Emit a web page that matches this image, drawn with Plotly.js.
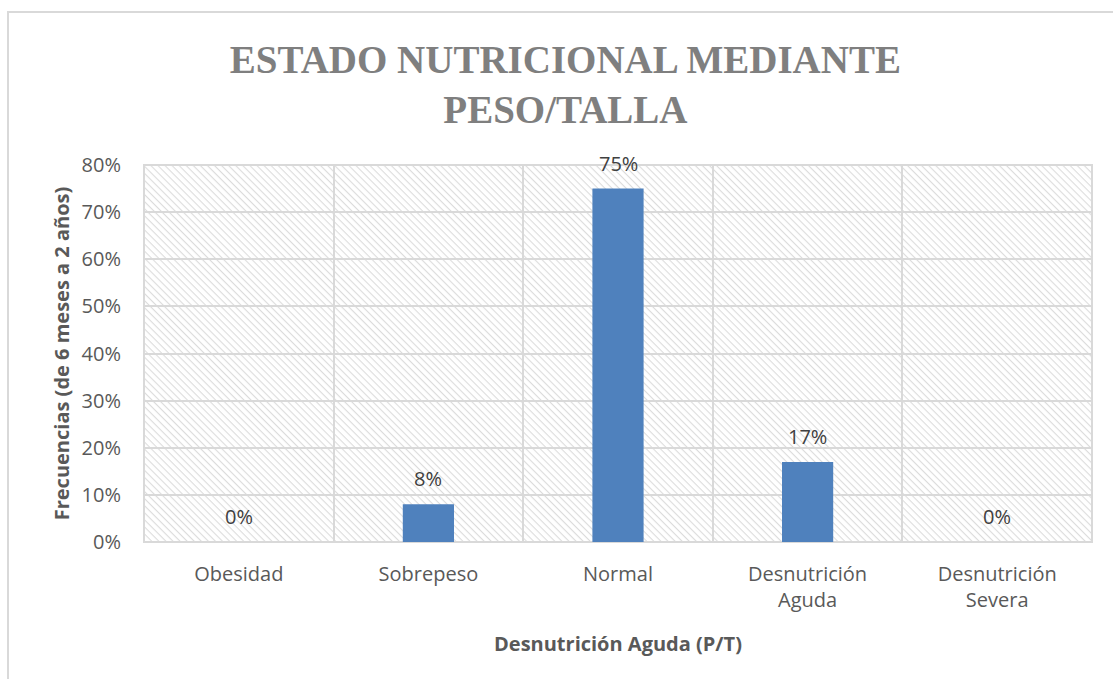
<!DOCTYPE html>
<html><head><meta charset="utf-8">
<script src="https://cdn.plot.ly/plotly-3.0.1.min.js"></script>
<style>html,body{margin:0;padding:0;background:#fff}#chart{width:1113px;height:679px}</style>
</head><body><div id="chart"></div>
<script>
const categories = ["Obesidad", "Sobrepeso", "Normal", "Desnutrición Aguda", "Desnutrición Severa"];
const tickLabels = ["Obesidad", "Sobrepeso", "Normal", "Desnutrición<br>Aguda", "Desnutrición<br>Severa"];
const values = [0.00, 0.08, 0.75, 0.17, 0.00];
const dataLabels = ["0%", "8%", "75%", "17%", "0%"];
const yTicks = [0, 0.1, 0.2, 0.3, 0.4, 0.5, 0.6, 0.7, 0.8];

const hatch = 'data:image/svg+xml;utf8,' + encodeURIComponent(
 '<svg xmlns="http://www.w3.org/2000/svg" width="948" height="377">' +
 '<defs><pattern id="p" width="5" height="5" patternUnits="userSpaceOnUse" patternTransform="rotate(45)">' +
 '<rect width="5" height="5" fill="#ffffff"/><line x1="0" y1="0" x2="5" y2="0" stroke="#dcdcdc" stroke-width="2.2"/></pattern></defs>' +
 '<rect width="948" height="377" fill="url(#p)"/></svg>');

const trace = {
  type: 'bar', x: categories, y: values,
  marker: {color: '#4f81bd'},
  width: 0.27,
  hoverinfo: 'skip'
};

const annotations = categories.map((c, i) => ({
  x: c, y: values[i], xref: 'x', yref: 'y', text: dataLabels[i],
  showarrow: false, yanchor: 'bottom', yshift: 10,
  font: {family: 'Open Sans', size: 20, color: '#404040'}
}));

const layout = {
  width: 1113, height: 679,
  margin: {l: 144, r: 21, t: 165, b: 137},
  paper_bgcolor: '#ffffff', plot_bgcolor: 'rgba(0,0,0,0)',
  showlegend: false,
  title: {
    text: 'ESTADO NUTRICIONAL MEDIANTE<br>PESO/TALLA',
    font: {family: 'Liberation Serif', size: 39, color: '#7f7f7f', weight: 'bold'},
    x: 0.508, xref: 'container', xanchor: 'center',
    y: 0.893, yref: 'container', yanchor: 'top'
  },
  xaxis: {
    type: 'category', tickvals: categories, ticktext: tickLabels,
    tickson: 'boundaries', showgrid: true, gridcolor: '#d9d9d9', gridwidth: 2,
    ticks: '', showline: false, zeroline: false, ticklabelstandoff: 18,
    tickfont: {family: 'Open Sans', size: 20, color: '#595959'},
    title: {text: 'Desnutrición Aguda (P/T)', font: {family: 'Open Sans', size: 20, color: '#595959', weight: 'bold'}, standoff: 24},
    range: [-0.5, 4.5]
  },
  yaxis: {
    range: [0, 0.8], tickvals: yTicks, tickformat: '.0%',
    showgrid: true, gridcolor: '#d9d9d9', gridwidth: 2,
    zeroline: true, zerolinecolor: '#d9d9d9', zerolinewidth: 2,
    showline: false, ticks: '', ticklabelstandoff: 22,
    tickfont: {family: 'Open Sans', size: 20, color: '#595959'},
    title: {text: 'Frecuencias (de 6 meses a 2 años)', font: {family: 'Open Sans', size: 20, color: '#595959', weight: 'bold'}, standoff: 6}
  },
  annotations: annotations,
  images: [{source: hatch, xref: 'paper', yref: 'paper', x: 0, y: 1, sizex: 1, sizey: 1,
            sizing: 'stretch', xanchor: 'left', yanchor: 'top', layer: 'below'}],
  shapes: [
    {type: 'rect', xref: 'paper', yref: 'paper', x0: 0, x1: 1, y0: 0, y1: 1,
     line: {color: '#d9d9d9', width: 2}, fillcolor: 'rgba(0,0,0,0)', layer: 'below'},
    {type: 'rect', xref: 'paper', yref: 'paper', x0: (8-144)/948, x1: (1125-144)/948, y0: (542-690)/377, y1: (542-12)/377,
     line: {color: '#d9d9d9', width: 2}, fillcolor: 'rgba(0,0,0,0)', layer: 'below'}
  ]
};

Plotly.newPlot('chart', [trace], layout, {displayModeBar: false, staticPlot: true});
</script></body></html>
